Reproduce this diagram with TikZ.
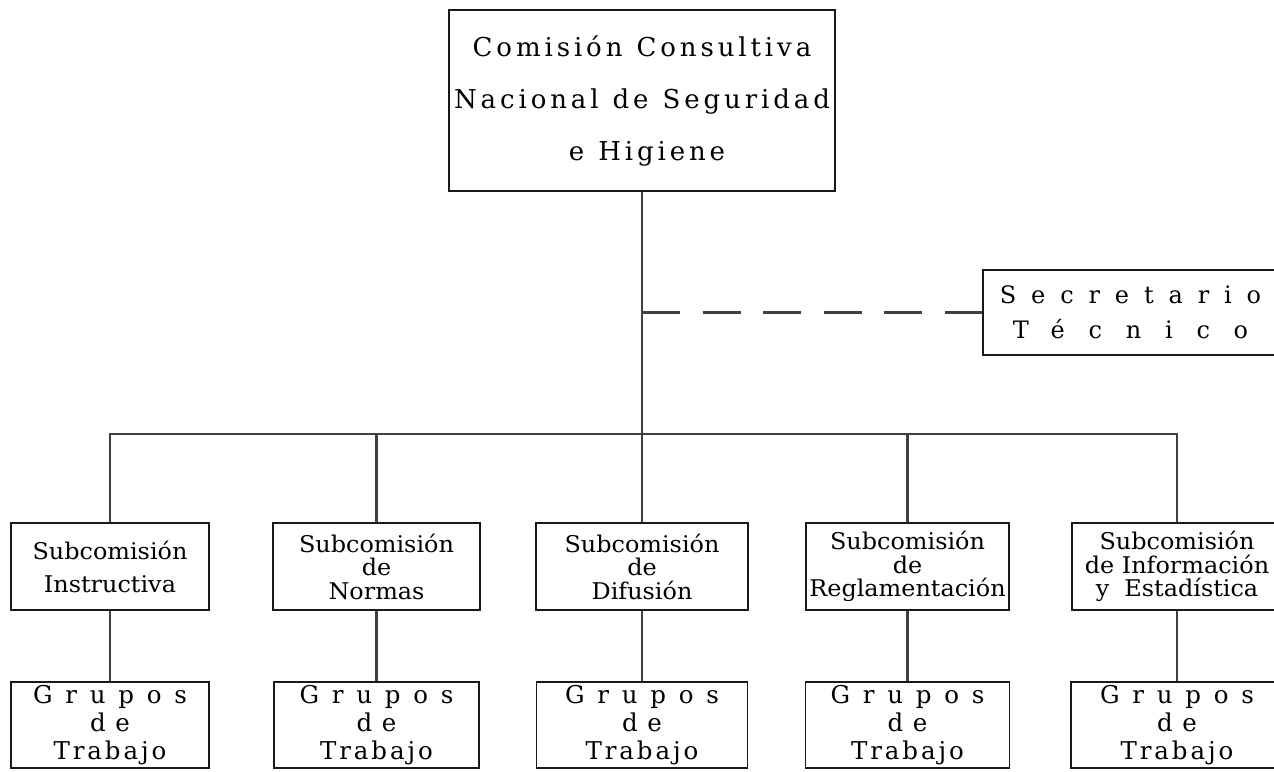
\documentclass[tikz,border=0pt]{standalone}
\usepackage{fontspec}
\setmainfont{DejaVu Serif}
\newfontfamily\subfont[FakeStretch=1.04]{DejaVu Serif}
\newcommand\lsp[2]{{\addfontfeature{LetterSpace=#1}#2}}
\newcommand\wsp{\hspace{14pt}}
\newcommand\gruposlines{\lsp{52}{Grupos}\\\lsp{40}{de}\\\lsp{12}{Trabajo}}
\begin{document}
\begin{tikzpicture}[x=1pt,y=-1pt,
  box/.style={draw=black!90,line width=1.8pt,inner sep=0pt,align=center},
  subbox/.style={box,minimum height=87pt,font=\subfont\fontsize{23}{23.5}\selectfont},
  grpbox/.style={box,minimum height=86pt,font=\fontsize{24.5}{28}\selectfont},
  conn/.style={draw=black!75,line width=2.2pt},
  dashconn/.style={conn,dash pattern=on 38pt off 22.6pt}]
\useasboundingbox[fill=white] (0,0) rectangle (1274,771);

% top
\node[box,minimum width=386pt,minimum height=181pt,
  font=\fontsize{26}{52}\selectfont\addfontfeature{LetterSpace=15}] (top) at (642,100.5)
  {Comisión\wsp Consultiva\\Nacional\wsp de\wsp Seguridad\\\hspace{10pt}e\wsp Higiene};

% secretary
\node[box,minimum width=295pt,minimum height=85pt,font=\fontsize{24}{35}\selectfont] (sec) at (1130.5,312.5)
  {\lsp{62}{Secretario}\\\lsp{99}{Técnico}};

% subcommissions
\node[subbox,minimum width=198pt,font=\subfont\fontsize{23}{33}\selectfont] (s1) at (110,566.5) {Subcomisión\\Instructiva};
\node[subbox,minimum width=207pt] (s2) at (376.5,566.5) {Subcomisión\\de\\Normas};
\node[subbox,minimum width=212pt] (s3) at (642,566.5) {Subcomisión\\de\\Difusión};
\node[subbox,minimum width=203pt] (s4) at (907.5,566.5) {Subcomisión\\de\\Reglamentación};
\node[subbox,minimum width=210pt] (s5) at (1177,566.5) {Subcomisión\\de Información\\y~~Estadística};

% working groups
\node[grpbox,minimum width=198pt] (g1) at (110,725) {\gruposlines};
\node[grpbox,minimum width=205pt] (g2) at (376.5,725) {\gruposlines};
\node[grpbox,minimum width=211pt] (g3) at (642,725) {\gruposlines};
\node[grpbox,minimum width=204pt] (g4) at (907.5,725) {\gruposlines};
\node[grpbox,minimum width=212pt] (g5) at (1177,725) {\gruposlines};

% connectors
\coordinate (bus) at (642,434);
\draw[conn] (top.south) -- (s3.north);
\draw[conn] (s1.north) -- (s1.north |- bus) -- (s5.north |- bus) -- (s5.north);
\foreach \n in {s2,s4} \draw[conn] (\n.north) -- (\n.north |- bus);
\foreach \i in {1,...,5} \draw[conn] (s\i.south) -- (g\i.north);
\draw[dashconn] (top.south |- sec.west) -- (sec.west);
\end{tikzpicture}
\end{document}
